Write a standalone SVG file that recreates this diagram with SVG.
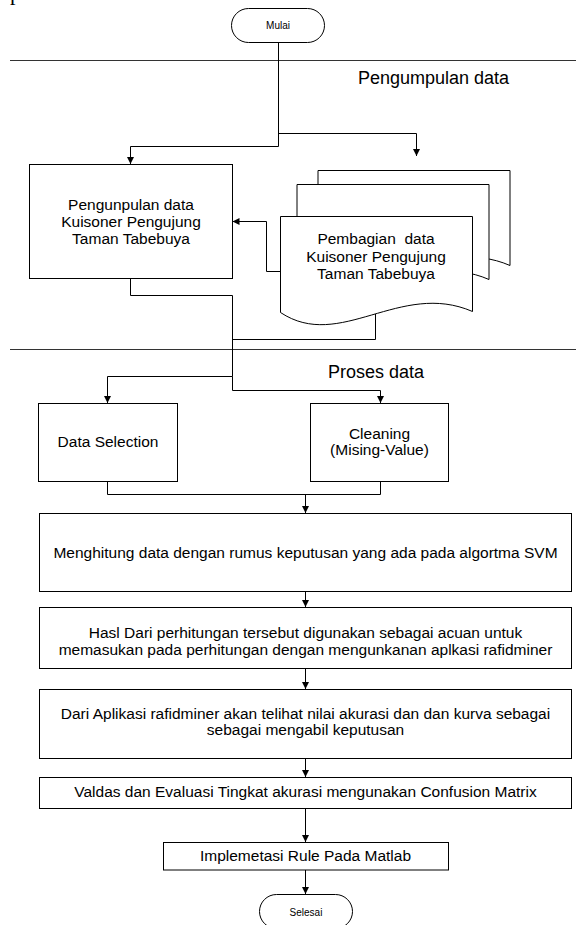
<svg xmlns="http://www.w3.org/2000/svg" width="576" height="925" viewBox="0 0 576 925">
<style>
.box{fill:#fff;stroke:#000;stroke-width:1}
.ln{fill:none;stroke:#000;stroke-width:1}
.sep{stroke:#333;stroke-width:1}
text{font-family:"Liberation Sans",Arial,sans-serif;fill:#000;text-anchor:middle}
.t{font-size:15.5px}
.h{font-size:18px;text-anchor:start}
.s{font-size:10px}
.pre{white-space:pre}
</style>
<defs>
<marker id="ah" markerWidth="8" markerHeight="8" refX="7" refY="4" orient="auto" markerUnits="userSpaceOnUse"><path d="M0,0.5 L7,4 L0,7.5 Z" fill="#000"/></marker>
<path id="doc" d="M280.5,216.5 H472.5 V311.5 C400,280 340,352 280.5,312.5 Z"/>
</defs>
<text x="10" y="-0.5" style="font-family:'Liberation Serif',serif;font-size:22px;text-anchor:start">p</text>
<g id="separators">
<line class="sep" x1="10" y1="60.5" x2="576" y2="60.5"/>
<line class="sep" x1="10" y1="349.5" x2="576" y2="349.5"/>
<text class="h" x="358" y="84">Pengumpulan data</text>
<text class="h" x="328" y="378">Proses data</text>
</g>
<g id="connectors">
<path class="ln" d="M278.5,43 V146.5 H130.5 V164" marker-end="url(#ah)"/>
<path class="ln" d="M278.5,133.5 H416.5 V156" marker-end="url(#ah)"/>
<path class="ln" d="M280.5,271.5 H266.5 V221.5 H232.5" marker-end="url(#ah)"/>
<path class="ln" d="M130.5,279 V295.5 H232.5 V376.5 H107.5 V403" marker-end="url(#ah)"/>
<path class="ln" d="M232.5,376.5 V390.5 H380.5 V403" marker-end="url(#ah)"/>
<path class="ln" d="M375.5,314 V339.5 H232.5"/>
<path class="ln" d="M107.5,482 V494.5 H380.5 V482"/>
<path class="ln" d="M305.5,494.5 V513" marker-end="url(#ah)"/>
<path class="ln" d="M305.5,592 V607" marker-end="url(#ah)"/>
<path class="ln" d="M305.5,669 V689" marker-end="url(#ah)"/>
<path class="ln" d="M305.5,759 V777" marker-end="url(#ah)"/>
<path class="ln" d="M305.5,809 V842" marker-end="url(#ah)"/>
<path class="ln" d="M305.5,870 V894" marker-end="url(#ah)"/>
</g>
<g id="mulai">
<rect class="box" x="231.5" y="8.5" width="93" height="34" rx="17"/>
<text class="s" x="278" y="29">Mulai</text>
</g>
<g id="pengumpulan">
<rect class="box" x="29.5" y="164.5" width="203" height="114"/>
<text class="t" x="131" y="209.5">Pengunpulan data</text>
<text class="t" x="131" y="226.5">Kuisoner Pengujung</text>
<text class="t" x="131" y="243.5">Taman Tabebuya</text>
</g>
<g id="pembagian">
<use href="#doc" class="box" transform="translate(37.5,-46)"/>
<use href="#doc" class="box" transform="translate(16.5,-32)"/>
<use href="#doc" class="box"/>
<text class="t pre" x="376" y="243.5">Pembagian  data</text>
<text class="t" x="376" y="261.5">Kuisoner Pengujung</text>
<text class="t" x="376" y="279">Taman Tabebuya</text>
</g>
<g id="selection">
<rect class="box" x="38.5" y="403.5" width="139" height="78"/>
<text class="t" x="108" y="447">Data Selection</text>
</g>
<g id="cleaning">
<rect class="box" x="310.5" y="403.5" width="138" height="78"/>
<text class="t" x="379.5" y="438.5">Cleaning</text>
<text class="t" x="379.5" y="455">(Mising-Value)</text>
</g>
<g id="menghitung">
<rect class="box" x="39.5" y="513.5" width="532" height="78"/>
<text class="t" x="305.5" y="557.5">Menghitung data dengan rumus keputusan yang ada pada algortma SVM</text>
</g>
<g id="hasil">
<rect class="box" x="39.5" y="607.5" width="532" height="61"/>
<text class="t" x="305.5" y="638">Hasl Dari perhitungan tersebut digunakan sebagai acuan untuk</text>
<text class="t" x="305.5" y="654.5">memasukan pada perhitungan dengan mengunkanan aplkasi rafidminer</text>
</g>
<g id="aplikasi">
<rect class="box" x="39.5" y="689.5" width="532" height="69"/>
<text class="t" x="305.5" y="718.5">Dari Aplikasi rafidminer akan telihat nilai akurasi dan dan kurva sebagai</text>
<text class="t" x="305.5" y="735">sebagai mengabil keputusan</text>
</g>
<g id="validasi">
<rect class="box" x="39.5" y="777.5" width="532" height="31"/>
<text class="t" x="305.5" y="796.5">Valdas dan Evaluasi Tingkat akurasi mengunakan Confusion Matrix</text>
</g>
<g id="implementasi">
<rect class="box" x="163.5" y="842.5" width="285" height="27.5"/>
<text class="t" x="305.5" y="860.5">Implemetasi Rule Pada Matlab</text>
</g>
<g id="selesai">
<rect class="box" x="259.5" y="894.5" width="93" height="34" rx="17"/>
<text class="s" x="306" y="915.5">Selesai</text>
</g>
</svg>
